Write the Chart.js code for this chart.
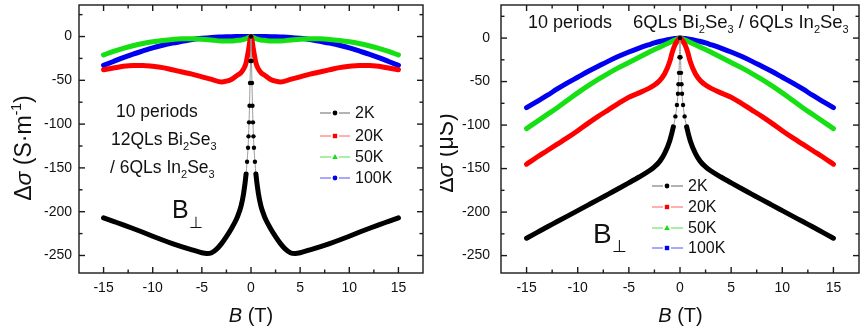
<!DOCTYPE html>
<html lang="en">
<head>
<meta charset="UTF-8" />
<title>Magnetoconductance — Bi2Se3 / In2Se3 superlattices</title>
<script src="https://cdn.jsdelivr.net/npm/chart.js"></script>
<style>
  body { margin: 0; background: #fff; }
  #wrap { position: relative; width: 867px; height: 330px; }
  canvas { position: absolute; top: 0; }
  #leftChart { left: 0; }
  #rightChart { left: 440px; }
</style>
</head>
<body>
<div id="wrap">
  <canvas id="leftChart" width="440" height="330"></canvas>
  <canvas id="rightChart" width="427" height="330"></canvas>
</div>

<script>
const FONT = "'Liberation Sans', Arial, sans-serif";

// Общие подписи и цвета
const seriesLabels = ['2K', '20K', '50K', '100K'];
const seriesColors = ['#000000', '#ff0000', '#14e014', '#0000f0'];
const legendLineColors = ['#666666', '#ff6060', '#50e050', '#5050ff'];
const xTicks = [-15, -10, -5, 0, 5, 10, 15];
const yTicks = [-250, -200, -150, -100, -50, 0];

// Левая панель: 12QLs Bi2Se3 / 6QLs In2Se3
const leftBlackB = [-15, -14, -13, -12, -11, -10, -9, -8, -7, -6, -5, -4.5, -4, -3.5, -3, -2.5, -2, -1.5, -1.25, -1, -0.75, -0.5, -0.4, -0.3, -0.25, -0.2, -0.15, -0.1, -0.05, 0,
                    0.05, 0.1, 0.15, 0.2, 0.25, 0.3, 0.4, 0.5, 0.75, 1, 1.25, 1.5, 2, 2.5, 3, 3.5, 4, 4.5, 5, 6, 7, 8, 9, 10, 11, 12, 13, 14, 15];
const left2K = [-207, -211, -215, -219.2, -223.5, -228, -232.3, -236.4, -240.2, -243.6, -246.8, -247.6, -246.8, -242.8, -236.5, -228.5, -219.5, -209, -202, -193, -179, -157, -143, -127, -114, -98, -79, -53, -28, 0,
                -28, -53, -79, -98, -114, -127, -143, -157, -179, -193, -202, -209, -219.5, -228.5, -236.5, -242.8, -246.8, -247.6, -246.8, -243.6, -240.2, -236.4, -232.3, -228, -223.5, -219.2, -215, -211, -207];
const leftB = [-15, -14, -13, -12, -11, -10, -9, -8, -7, -6, -5, -4, -3, -2.5, -2, -1.5, -1, -0.75, -0.5, -0.25, 0,
               0.25, 0.5, 0.75, 1, 1.5, 2, 2.5, 3, 4, 5, 6, 7, 8, 9, 10, 11, 12, 13, 14, 15];
const left20K = [-38, -36, -34, -33, -33, -34, -35.5, -38, -40.5, -43, -46, -49, -52, -51, -49, -45, -41, -37, -30, -15, 0,
                 -15, -30, -37, -41, -45, -49, -51, -52, -49, -46, -43, -40.5, -38, -35.5, -34, -33, -33, -34, -36, -38];
const left50K = [-21, -17, -13.5, -10.5, -8, -6, -4.5, -3.3, -2.6, -2.5, -3, -4, -5, -5, -5, -4.5, -4, -3.3, -2.5, -1.2, 0,
                 -1.2, -2.5, -3.3, -4, -4.5, -5, -5, -5, -4, -3, -2.5, -2.6, -3.3, -4.5, -6, -8, -10.5, -13.5, -17, -21];
const left100K = [-33, -28.5, -24, -20, -16.5, -13, -10, -7.5, -5.5, -3.5, -2, -1, -0.5, -0.3, -0.2, -0.1, 0, 0, 0, 0, 0,
                  0, 0, 0, 0, -0.1, -0.2, -0.3, -0.5, -1, -2, -3.5, -5.5, -7.5, -10, -13, -16.5, -20, -24, -28.5, -33];

// Правая панель: 6QLs Bi2Se3 / 6QLs In2Se3
const rightBlackB = [-15, -14, -13, -12, -11, -10, -9, -8, -7, -6, -5, -4, -3, -2.5, -2, -1.5, -1, -0.65, -0.45, -0.3, -0.2, -0.15, -0.1, -0.05, 0,
                     0.05, 0.1, 0.15, 0.2, 0.3, 0.45, 0.65, 1, 1.5, 2, 2.5, 3, 4, 5, 6, 7, 8, 9, 10, 11, 12, 13, 14, 15];
const right2K = [-230, -223.6, -217.2, -210.9, -204.6, -198.3, -192, -185.7, -179.3, -172.9, -166.4, -159.7, -152.5, -148, -142, -132.5, -118, -102, -90, -77, -64, -53, -40, -22, 0,
                 -22, -40, -53, -64, -77, -90, -102, -118, -132.5, -142, -148, -152.5, -159.7, -166.4, -172.9, -179.3, -185.7, -192, -198.3, -204.6, -210.9, -217.2, -223.6, -230];
const rightB = [-15, -14, -13, -12, -11, -10, -9, -8, -7, -6, -5, -4, -3, -2.5, -2, -1.5, -1, -0.75, -0.5, -0.25, 0,
                0.25, 0.5, 0.75, 1, 1.5, 2, 2.5, 3, 4, 5, 6, 7, 8, 9, 10, 11, 12, 13, 14, 15];
const right20K = [-145, -137, -129.5, -122, -114.5, -106.5, -98, -90, -82.5, -75, -68, -63, -57.5, -54, -49, -41, -27, -16, -8, -3, 0,
                  -3, -8, -16, -27, -41, -49, -54, -57.5, -63, -68, -75, -82.5, -90, -98, -106.5, -114.5, -122, -129.5, -137, -145];
const right50K = [-104, -96, -88, -80, -71.5, -63, -55, -47.5, -40.5, -34, -28, -22, -16, -13.2, -10.5, -7.8, -5, -3.6, -2.3, -1.1, 0,
                  -1.1, -2.3, -3.6, -5, -7.8, -10.5, -13.2, -16, -22, -28, -34, -40.5, -47.5, -55, -63, -71.5, -80, -88, -96, -104];
const right100K = [-80, -73, -66, -58.5, -51.5, -45, -38.5, -32.5, -26.5, -21, -16, -11.5, -7.5, -5.6, -4, -2.6, -1.5, -1, -0.5, -0.2, 0,
                   -0.2, -0.5, -1, -1.5, -2.6, -4, -5.6, -7.5, -11.5, -16, -21, -26.5, -32.5, -38.5, -45, -51.5, -58.5, -66, -73, -80];

function pts(bs, vs) {
    return bs.map((b, i) => ({ x: b, y: vs[i] }));
}

// текст с курсивом, индексами и степенями
function drawRich(ctx, parts, x, y, size, align) {
    const fontFor = st => (st === 'i' ? 'italic ' : '') +
        (st === 'sub' || st === 'sup' ? Math.round(size * 0.62) : size) + 'px ' + FONT;
    let w = 0;
    parts.forEach(([t, st]) => { ctx.font = fontFor(st); w += ctx.measureText(t).width; });
    let cx = align === 'center' ? x - w / 2 : x;
    ctx.textAlign = 'left';
    ctx.textBaseline = 'alphabetic';
    parts.forEach(([t, st, dyOverride]) => {
        ctx.font = fontFor(st);
        let dy = st === 'sub' ? size * 0.28 : st === 'sup' ? -size * 0.42 : 0;
        if (dyOverride !== undefined) dy = dyOverride;
        ctx.fillText(t, cx, y + dy);
        cx += ctx.measureText(t).width;
    });
}

function drawMarker(ctx, shape, x, y, color) {
    ctx.fillStyle = color;
    ctx.beginPath();
    if (shape === 'square') {
        ctx.rect(x - 2.2, y - 2.2, 4.4, 4.4);
    } else if (shape === 'triangle') {
        ctx.moveTo(x, y - 3); ctx.lineTo(x + 2.8, y + 2); ctx.lineTo(x - 2.8, y + 2); ctx.closePath();
    } else {
        ctx.arc(x, y, 2.4, 0, Math.PI * 2);
    }
    ctx.fill();
}

function makeDecor(cfg) {
    return {
        id: 'decor',
        afterDraw(chart) {
            const ctx = chart.ctx;
            const a = chart.chartArea;
            const xs = chart.scales.x, ys = chart.scales.y;
            const tick = (x1, y1, x2, y2) => { ctx.beginPath(); ctx.moveTo(x1, y1); ctx.lineTo(x2, y2); ctx.stroke(); };
            ctx.save();
            ctx.strokeStyle = '#1a1a1a';
            ctx.lineWidth = 1.4;
            ctx.strokeRect(a.left, a.top, a.right - a.left, a.bottom - a.top);

            // деления по X
            xTicks.forEach((v, i) => {
                const px = xs.getPixelForValue(v);
                tick(px, a.bottom, px, a.bottom - 6);
                tick(px, a.top, px, a.top + 6);
                if (i < xTicks.length - 1) {
                    const mx = xs.getPixelForValue((v + xTicks[i + 1]) / 2);
                    tick(mx, a.bottom, mx, a.bottom - 3.5);
                    tick(mx, a.top, mx, a.top + 3.5);
                }
            });
            // деления по Y
            const minorY = [];
            yTicks.forEach((v, i) => {
                const py = ys.getPixelForValue(v);
                tick(a.left, py, a.left + 6, py);
                tick(a.right, py, a.right - 6, py);
                if (i < yTicks.length - 1) minorY.push((v + yTicks[i + 1]) / 2);
            });
            minorY.push(yTicks[yTicks.length - 1] + 25);
            minorY.forEach(v => {
                const py = ys.getPixelForValue(v);
                tick(a.left, py, a.left + 3.5, py);
                tick(a.right, py, a.right - 3.5, py);
            });

            ctx.fillStyle = '#111';
            // подпись оси X
            drawRich(ctx, [['B', 'i'], [' (T)', '']], cfg.xTitle.x, cfg.xTitle.y, 20, 'center');
            // подпись оси Y
            ctx.save();
            ctx.translate(cfg.yTitle.x, cfg.yTitle.y);
            ctx.rotate(-Math.PI / 2);
            drawRich(ctx, cfg.yTitle.parts, 0, 0, 23, 'center');
            ctx.restore();

            // надписи на графике
            cfg.notes.forEach(n => drawRich(ctx, n.parts, n.x, n.y, n.size, 'left'));

            // легенда
            const lg = cfg.legend;
            seriesLabels.forEach((lab, i) => {
                const y = lg.y[i];
                ctx.strokeStyle = legendLineColors[i];
                ctx.lineWidth = 1;
                tick(lg.x1, y, lg.mx - 4, y);
                tick(lg.mx + 4, y, lg.x2, y);
                drawMarker(ctx, lg.shapes[i], lg.mx, y, seriesColors[i]);
                ctx.fillStyle = '#111';
                ctx.font = '16px ' + FONT;
                ctx.textAlign = 'left';
                ctx.textBaseline = 'middle';
                ctx.fillText(lab, lg.tx, y + 1);
            });
            ctx.restore();
        }
    };
}

function makeChart(canvasId, cfg) {
    const dotLimit = cfg.dotLimit;
    const thin = c => Math.abs(c.p0.parsed.x) <= dotLimit && Math.abs(c.p1.parsed.x) <= dotLimit;
    const datasets = [
        {
            label: seriesLabels[0],
            data: pts(cfg.blackB, cfg.black),
            borderColor: seriesColors[0],
            borderWidth: 5,
            segment: {
                borderWidth: c => thin(c) ? 1 : undefined,
                borderColor: c => thin(c) ? '#9a9a9a' : undefined
            },
            pointRadius: c => (c.raw && Math.abs(c.raw.x) <= dotLimit) ? 2.2 : 0,
            pointBackgroundColor: '#000',
            pointBorderWidth: 0
        },
        { label: seriesLabels[1], data: pts(cfg.b, cfg.s20), borderColor: seriesColors[1], borderWidth: 5, pointRadius: 0 },
        { label: seriesLabels[2], data: pts(cfg.b, cfg.s50), borderColor: seriesColors[2], borderWidth: 5, pointRadius: 0 },
        { label: seriesLabels[3], data: pts(cfg.b, cfg.s100), borderColor: seriesColors[3], borderWidth: 5, pointRadius: 0 }
    ];
    datasets.forEach(d => { d.cubicInterpolationMode = 'monotone'; d.borderCapStyle = 'round'; d.borderJoinStyle = 'round'; d.fill = false; });

    return new Chart(document.getElementById(canvasId).getContext('2d'), {
        type: 'line',
        data: { datasets },
        options: {
            responsive: false,
            animation: false,
            devicePixelRatio: 1,
            layout: { padding: { left: 0, right: cfg.padRight, top: 5, bottom: 0 } },
            plugins: { legend: { display: false }, tooltip: { enabled: false } },
            scales: {
                x: {
                    type: 'linear', min: -17.5, max: 17.5,
                    grid: { display: false, drawTicks: false },
                    border: { display: false },
                    afterBuildTicks: s => { s.ticks = xTicks.map(v => ({ value: v })); },
                    afterFit: s => { s.height = 57; s.paddingLeft = 0; s.paddingRight = 0; },
                    ticks: { font: { family: FONT, size: 14 }, color: '#111', padding: 7, autoSkip: false, maxRotation: 0, callback: v => String(v) }
                },
                y: {
                    type: 'linear', min: -270, max: cfg.yMax,
                    grid: { display: false, drawTicks: false },
                    border: { display: false },
                    afterBuildTicks: s => { s.ticks = yTicks.map(v => ({ value: v })); },
                    afterFit: s => { s.width = cfg.yWidth; s.paddingTop = 0; s.paddingBottom = 0; },
                    ticks: { font: { family: FONT, size: 14 }, color: '#111', padding: cfg.yPad, autoSkip: false, callback: v => String(v) }
                }
            }
        },
        plugins: [makeDecor(cfg)]
    });
}

makeChart('leftChart', {
    blackB: leftBlackB, black: left2K, b: leftB, s20: left20K, s50: left50K, s100: left100K,
    dotLimit: 0.5, padRight: 17, yWidth: 79, yPad: 7, yMax: 36,
    xTitle: { x: 251, y: 322 },
    yTitle: { x: 31, y: 148, parts: [['Δ', ''], ['σ', 'i'], [' (S·m', ''], ['-1', 'sup'], [')', '']] },
    notes: [
        { x: 116, y: 117, size: 17.5, parts: [['10 periods', '']] },
        { x: 111, y: 145, size: 17.5, parts: [['12QLs Bi', ''], ['2', 'sub'], ['Se', ''], ['3', 'sub']] },
        { x: 110, y: 173, size: 17.5, parts: [['/ 6QLs In', ''], ['2', 'sub'], ['Se', ''], ['3', 'sub']] },
        { x: 172, y: 218, size: 25, parts: [['B', ''], ['\u22A5', 'sub', 10]] }
    ],
    legend: { x1: 320, x2: 350, mx: 335, tx: 355, y: [113, 136, 157, 178], shapes: ['circle', 'square', 'triangle', 'circle'] }
});

makeChart('rightChart', {
    blackB: rightBlackB, black: right2K, b: rightB, s20: right20K, s50: right50K, s100: right100K,
    dotLimit: 0.65, padRight: 8, yWidth: 61, yPad: 11, yMax: 38,
    xTitle: { x: 240.5, y: 322 },
    yTitle: { x: 13, y: 153, parts: [['Δ', ''], ['σ', 'i'], [' (μS)', '']] },
    notes: [
        { x: 88, y: 28, size: 18, parts: [['10 periods', '']] },
        { x: 193, y: 28, size: 18.5, parts: [['6QLs Bi', ''], ['2', 'sub'], ['Se', ''], ['3', 'sub'], [' / 6QLs In', ''], ['2', 'sub'], ['Se', ''], ['3', 'sub']] },
        { x: 153, y: 243, size: 28, parts: [['B', ''], ['\u22A5', 'sub', 9]] }
    ],
    legend: { x1: 212, x2: 243, mx: 227, tx: 248, y: [186, 207, 228, 248], shapes: ['circle', 'square', 'triangle', 'square'] }
});
</script>
</body>
</html>
